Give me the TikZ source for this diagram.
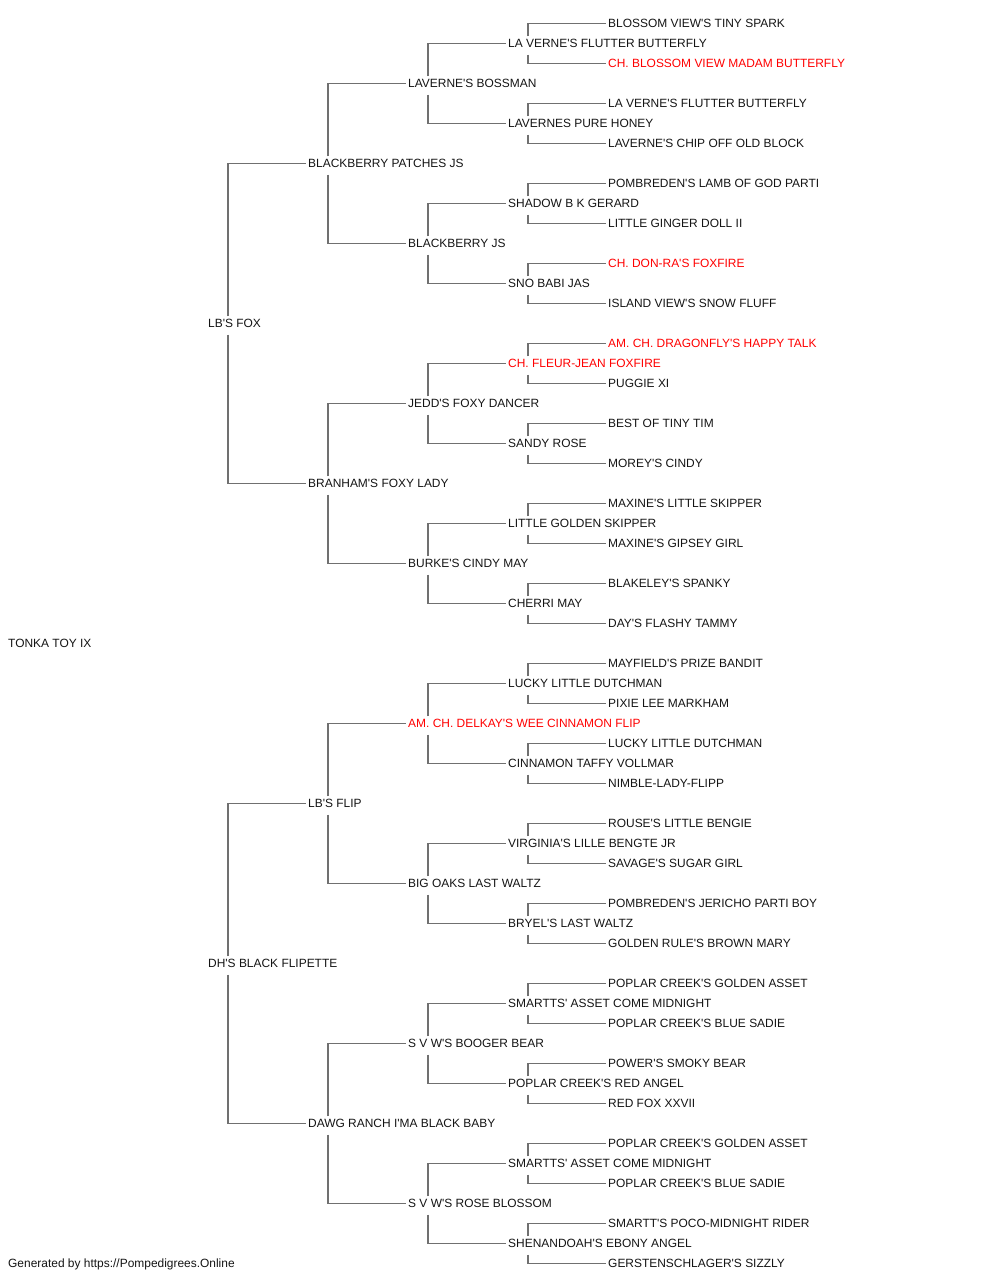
\documentclass[tikz,border=0pt]{standalone}
\usepackage{fontspec}
\newfontfamily\pedfont{Liberation Sans}
\usepackage{tikz}
\definecolor{linegray}{RGB}{112,112,112}
\definecolor{champred}{RGB}{255,0,0}
\definecolor{namegray}{RGB}{20,20,20}

\begin{document}
\begin{tikzpicture}[x=1pt,y=-1pt,
	every node/.style={anchor=west,inner xsep=0pt,inner ysep=2.7pt,text height=8.6pt,text depth=0pt,
		text=namegray,font=\pedfont\fontsize{11.95}{14}\selectfont},
	champ/.style={text=champred},
	link/.style={draw=linegray,line width=1.4pt,shorten >=2pt}]

	\useasboundingbox (0,0) rectangle (1000,1280);

	% generation 0 and 1
	\node (N1) at (8,643.5) {TONKA TOY IX};
	\node (N2) at (208,323.5) {LB'S FOX};
	\node (N3) at (208,963.5) {DH'S BLACK FLIPETTE};

	% generation 2
	\node (N4) at (308,163.5) {BLACKBERRY PATCHES JS};
	\node (N5) at (308,483.5) {BRANHAM'S FOXY LADY};
	\node (N6) at (308,803.5) {LB'S FLIP};
	\node (N7) at (308,1123.5) {DAWG RANCH I'MA BLACK BABY};

	% generation 3
	\node (N8) at (408,83.5) {LAVERNE'S BOSSMAN};
	\node (N9) at (408,243.5) {BLACKBERRY JS};
	\node (N10) at (408,403.5) {JEDD'S FOXY DANCER};
	\node (N11) at (408,563.5) {BURKE'S CINDY MAY};
	\node[champ] (N12) at (408,723.5) {AM. CH. DELKAY'S WEE CINNAMON FLIP};
	\node (N13) at (408,883.5) {BIG OAKS LAST WALTZ};
	\node (N14) at (408,1043.5) {S V W'S BOOGER BEAR};
	\node (N15) at (408,1203.5) {S V W'S ROSE BLOSSOM};

	% generation 4
	\node (N16) at (508,43.5) {LA VERNE'S FLUTTER BUTTERFLY};
	\node (N17) at (508,123.5) {LAVERNES PURE HONEY};
	\node (N18) at (508,203.5) {SHADOW B K GERARD};
	\node (N19) at (508,283.5) {SNO BABI JAS};
	\node[champ] (N20) at (508,363.5) {CH. FLEUR-JEAN FOXFIRE};
	\node (N21) at (508,443.5) {SANDY ROSE};
	\node (N22) at (508,523.5) {LITTLE GOLDEN SKIPPER};
	\node (N23) at (508,603.5) {CHERRI MAY};
	\node (N24) at (508,683.5) {LUCKY LITTLE DUTCHMAN};
	\node (N25) at (508,763.5) {CINNAMON TAFFY VOLLMAR};
	\node (N26) at (508,843.5) {VIRGINIA'S LILLE BENGTE JR};
	\node (N27) at (508,923.5) {BRYEL'S LAST WALTZ};
	\node (N28) at (508,1003.5) {SMARTTS' ASSET COME MIDNIGHT};
	\node (N29) at (508,1083.5) {POPLAR CREEK'S RED ANGEL};
	\node (N30) at (508,1163.5) {SMARTTS' ASSET COME MIDNIGHT};
	\node (N31) at (508,1243.5) {SHENANDOAH'S EBONY ANGEL};

	% generation 5
	\node (N32) at (608,23.5) {BLOSSOM VIEW'S TINY SPARK};
	\node[champ] (N33) at (608,63.5) {CH. BLOSSOM VIEW MADAM BUTTERFLY};
	\node (N34) at (608,103.5) {LA VERNE'S FLUTTER BUTTERFLY};
	\node (N35) at (608,143.5) {LAVERNE'S CHIP OFF OLD BLOCK};
	\node (N36) at (608,183.5) {POMBREDEN'S LAMB OF GOD PARTI};
	\node (N37) at (608,223.5) {LITTLE GINGER DOLL II};
	\node[champ] (N38) at (608,263.5) {CH. DON-RA'S FOXFIRE};
	\node (N39) at (608,303.5) {ISLAND VIEW'S SNOW FLUFF};
	\node[champ] (N40) at (608,343.5) {AM. CH. DRAGONFLY'S HAPPY TALK};
	\node (N41) at (608,383.5) {PUGGIE XI};
	\node (N42) at (608,423.5) {BEST OF TINY TIM};
	\node (N43) at (608,463.5) {MOREY'S CINDY};
	\node (N44) at (608,503.5) {MAXINE'S LITTLE SKIPPER};
	\node (N45) at (608,543.5) {MAXINE'S GIPSEY GIRL};
	\node (N46) at (608,583.5) {BLAKELEY'S SPANKY};
	\node (N47) at (608,623.5) {DAY'S FLASHY TAMMY};
	\node (N48) at (608,663.5) {MAYFIELD'S PRIZE BANDIT};
	\node (N49) at (608,703.5) {PIXIE LEE MARKHAM};
	\node (N50) at (608,743.5) {LUCKY LITTLE DUTCHMAN};
	\node (N51) at (608,783.5) {NIMBLE-LADY-FLIPP};
	\node (N52) at (608,823.5) {ROUSE'S LITTLE BENGIE};
	\node (N53) at (608,863.5) {SAVAGE'S SUGAR GIRL};
	\node (N54) at (608,903.5) {POMBREDEN'S JERICHO PARTI BOY};
	\node (N55) at (608,943.5) {GOLDEN RULE'S BROWN MARY};
	\node (N56) at (608,983.5) {POPLAR CREEK'S GOLDEN ASSET};
	\node (N57) at (608,1023.5) {POPLAR CREEK'S BLUE SADIE};
	\node (N58) at (608,1063.5) {POWER'S SMOKY BEAR};
	\node (N59) at (608,1103.5) {RED FOX XXVII};
	\node (N60) at (608,1143.5) {POPLAR CREEK'S GOLDEN ASSET};
	\node (N61) at (608,1183.5) {POPLAR CREEK'S BLUE SADIE};
	\node (N62) at (608,1223.5) {SMARTT'S POCO-MIDNIGHT RIDER};
	\node (N63) at (608,1263.5) {GERSTENSCHLAGER'S SIZZLY};

	\node (footer) at (8,1263.5) {Generated by https://Pompedigrees.Online};

	% sire (up) and dam (down) brackets
	\draw[link] ([xshift=20pt]N2.north west) |- (N4.west);
	\draw[link] ([xshift=20pt,yshift=-4pt]N2.south west) |- (N5.west);
	\draw[link] ([xshift=20pt]N3.north west) |- (N6.west);
	\draw[link] ([xshift=20pt,yshift=-4pt]N3.south west) |- (N7.west);

	\draw[link] ([xshift=20pt]N4.north west) |- (N8.west);
	\draw[link] ([xshift=20pt,yshift=-4pt]N4.south west) |- (N9.west);
	\draw[link] ([xshift=20pt]N5.north west) |- (N10.west);
	\draw[link] ([xshift=20pt,yshift=-4pt]N5.south west) |- (N11.west);
	\draw[link] ([xshift=20pt]N6.north west) |- (N12.west);
	\draw[link] ([xshift=20pt,yshift=-4pt]N6.south west) |- (N13.west);
	\draw[link] ([xshift=20pt]N7.north west) |- (N14.west);
	\draw[link] ([xshift=20pt,yshift=-4pt]N7.south west) |- (N15.west);

	\draw[link] ([xshift=20pt]N8.north west) |- (N16.west);
	\draw[link] ([xshift=20pt,yshift=-4pt]N8.south west) |- (N17.west);
	\draw[link] ([xshift=20pt]N9.north west) |- (N18.west);
	\draw[link] ([xshift=20pt,yshift=-4pt]N9.south west) |- (N19.west);
	\draw[link] ([xshift=20pt]N10.north west) |- (N20.west);
	\draw[link] ([xshift=20pt,yshift=-4pt]N10.south west) |- (N21.west);
	\draw[link] ([xshift=20pt]N11.north west) |- (N22.west);
	\draw[link] ([xshift=20pt,yshift=-4pt]N11.south west) |- (N23.west);
	\draw[link] ([xshift=20pt]N12.north west) |- (N24.west);
	\draw[link] ([xshift=20pt,yshift=-4pt]N12.south west) |- (N25.west);
	\draw[link] ([xshift=20pt]N13.north west) |- (N26.west);
	\draw[link] ([xshift=20pt,yshift=-4pt]N13.south west) |- (N27.west);
	\draw[link] ([xshift=20pt]N14.north west) |- (N28.west);
	\draw[link] ([xshift=20pt,yshift=-4pt]N14.south west) |- (N29.west);
	\draw[link] ([xshift=20pt]N15.north west) |- (N30.west);
	\draw[link] ([xshift=20pt,yshift=-4pt]N15.south west) |- (N31.west);

	\draw[link] ([xshift=20pt]N16.north west) |- (N32.west);
	\draw[link] ([xshift=20pt,yshift=-4pt]N16.south west) |- (N33.west);
	\draw[link] ([xshift=20pt]N17.north west) |- (N34.west);
	\draw[link] ([xshift=20pt,yshift=-4pt]N17.south west) |- (N35.west);
	\draw[link] ([xshift=20pt]N18.north west) |- (N36.west);
	\draw[link] ([xshift=20pt,yshift=-4pt]N18.south west) |- (N37.west);
	\draw[link] ([xshift=20pt]N19.north west) |- (N38.west);
	\draw[link] ([xshift=20pt,yshift=-4pt]N19.south west) |- (N39.west);
	\draw[link] ([xshift=20pt]N20.north west) |- (N40.west);
	\draw[link] ([xshift=20pt,yshift=-4pt]N20.south west) |- (N41.west);
	\draw[link] ([xshift=20pt]N21.north west) |- (N42.west);
	\draw[link] ([xshift=20pt,yshift=-4pt]N21.south west) |- (N43.west);
	\draw[link] ([xshift=20pt]N22.north west) |- (N44.west);
	\draw[link] ([xshift=20pt,yshift=-4pt]N22.south west) |- (N45.west);
	\draw[link] ([xshift=20pt]N23.north west) |- (N46.west);
	\draw[link] ([xshift=20pt,yshift=-4pt]N23.south west) |- (N47.west);
	\draw[link] ([xshift=20pt]N24.north west) |- (N48.west);
	\draw[link] ([xshift=20pt,yshift=-4pt]N24.south west) |- (N49.west);
	\draw[link] ([xshift=20pt]N25.north west) |- (N50.west);
	\draw[link] ([xshift=20pt,yshift=-4pt]N25.south west) |- (N51.west);
	\draw[link] ([xshift=20pt]N26.north west) |- (N52.west);
	\draw[link] ([xshift=20pt,yshift=-4pt]N26.south west) |- (N53.west);
	\draw[link] ([xshift=20pt]N27.north west) |- (N54.west);
	\draw[link] ([xshift=20pt,yshift=-4pt]N27.south west) |- (N55.west);
	\draw[link] ([xshift=20pt]N28.north west) |- (N56.west);
	\draw[link] ([xshift=20pt,yshift=-4pt]N28.south west) |- (N57.west);
	\draw[link] ([xshift=20pt]N29.north west) |- (N58.west);
	\draw[link] ([xshift=20pt,yshift=-4pt]N29.south west) |- (N59.west);
	\draw[link] ([xshift=20pt]N30.north west) |- (N60.west);
	\draw[link] ([xshift=20pt,yshift=-4pt]N30.south west) |- (N61.west);
	\draw[link] ([xshift=20pt]N31.north west) |- (N62.west);
	\draw[link] ([xshift=20pt,yshift=-4pt]N31.south west) |- (N63.west);
\end{tikzpicture}
\end{document}
